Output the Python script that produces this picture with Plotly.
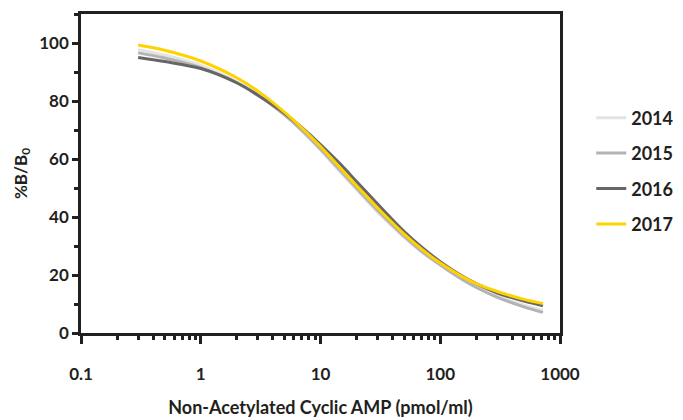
import plotly.graph_objects as go

conc = [0.3, 0.5, 1, 2, 3, 5, 7, 10, 15, 20, 30, 50, 70, 100, 150, 200, 300, 500, 720]

y2014 = [97.7, 95.8, 92.3, 86.8, 82.3, 75.2, 69.6, 63.0, 55.0, 49.4, 41.7, 33.0, 27.9, 23.4, 18.8, 16.0, 12.7, 9.6, 7.8]
y2015 = [96.6, 94.8, 91.5, 86.2, 82.0, 75.2, 69.9, 63.5, 55.6, 50.0, 42.3, 33.4, 28.2, 23.5, 18.6, 15.7, 12.3, 9.0, 7.1]
y2016 = [95.0, 93.6, 91.2, 86.3, 82.0, 75.8, 70.8, 65.0, 57.8, 52.2, 44.5, 35.0, 29.6, 24.6, 19.8, 17.0, 13.8, 11.0, 9.4]
y2017 = [99.3, 97.5, 93.8, 88.0, 83.4, 76.2, 70.7, 64.3, 56.4, 50.8, 43.1, 34.1, 28.9, 24.1, 19.6, 17.0, 14.3, 11.6, 10.2]

years = ["2014", "2015", "2016", "2017"]
colors = ["#e3e3e3", "#b3b3b3", "#666666", "#ffd200"]
series = [y2014, y2015, y2016, y2017]

x_tickvals = [0.1, 1, 10, 100, 1000]
x_ticktext = ["0.1", "1", "10", "100", "1000"]
x_minorvals = [m * d for d in (0.1, 1, 10, 100) for m in range(2, 10)]
y_tickvals = [0, 20, 40, 60, 80, 100]

ink = "#231f20"
fam = "Lato, sans-serif"

fig = go.Figure()
for name, ys, c in zip(years, series, colors):
    fig.add_trace(go.Scatter(
        x=conc, y=ys, mode="lines", name=name, legendgroup=name,
        line=dict(color=c, width=3, shape="spline", smoothing=1.0),
    ))

fig.update_layout(
    width=675, height=412,
    margin=dict(l=73, r=122, t=6, b=87),
    paper_bgcolor="white", plot_bgcolor="white",
    font=dict(family=fam, size=16, color=ink, weight="bold"),
    showlegend=True,
    legend=dict(x=1.063, y=0.732, xanchor="left", yanchor="top",
                font=dict(family=fam, size=18, color=ink, weight="bold"),
                tracegroupgap=9, itemwidth=30, bgcolor="rgba(0,0,0,0)"),
)

fig.update_xaxes(
    type="log", range=[-1, 3], automargin=False,
    tickvals=x_tickvals, ticktext=x_ticktext,
    ticks="outside", ticklen=8, tickwidth=2.5, tickcolor=ink,
    minor=dict(tickmode="array", tickvals=x_minorvals, ticks="outside",
               ticklen=4, tickwidth=2.5, tickcolor=ink, showgrid=False),
    showline=True, linewidth=2.5, linecolor=ink, mirror=True,
    showgrid=False, zeroline=False,
    ticklabelstandoff=16,
    tickfont=dict(family=fam, size=17, color=ink, weight="bold"),
    title=dict(text="Non-Acetylated Cyclic AMP (pmol/ml)", standoff=19,
               font=dict(family=fam, size=18, color=ink, weight="bold")),
)

fig.update_yaxes(
    range=[0, 110], automargin=False,
    tickvals=y_tickvals,
    ticks="outside", ticklen=6, tickwidth=2.5, tickcolor=ink,
    minor=dict(ticks="outside", ticklen=4, tickwidth=2.5, tickcolor=ink, dtick=10, showgrid=False),
    showline=True, linewidth=2.5, linecolor=ink, mirror=True,
    showgrid=False, zeroline=False,
    tickfont=dict(family=fam, size=17, color=ink, weight="bold"),
    title=dict(text="%B/B<sub>0</sub>", standoff=8,
               font=dict(family=fam, size=17, color=ink, weight="bold")),
)

fig.write_html("out.html")
